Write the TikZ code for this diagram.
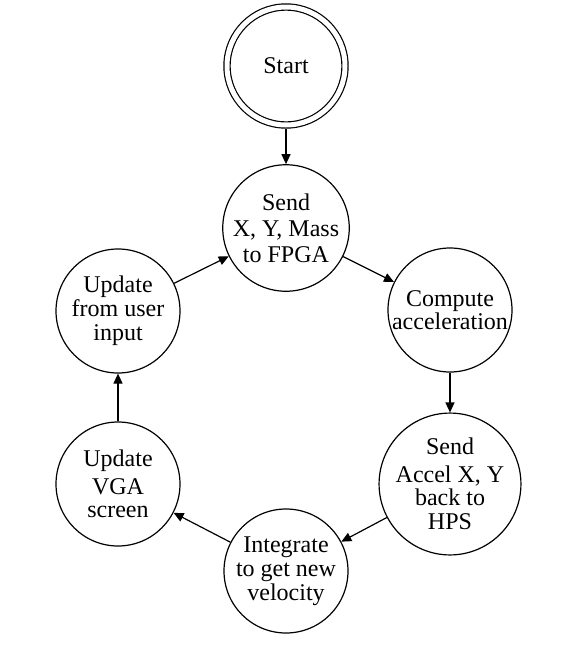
\documentclass[tikz,border=0pt]{standalone}
\usepackage{fontspec}
\setmainfont{Liberation Serif}
\usetikzlibrary{arrows.meta}
\tikzset{
  state/.style      = {draw, circle, line width=1.2pt, minimum size=124pt, inner sep=0pt,
                       align=center, font=\fontsize{24}{24}\selectfont},
  startstate/.style = {state, double, double distance=5pt, minimum size=118pt, outer sep=3.7pt},
  arrow/.style      = {-{Triangle[length=10pt,width=9pt]}, line width=1.2pt},
}
\begin{document}
\begin{tikzpicture}[x=1pt,y=-1pt]
  \useasboundingbox (0,0) rectangle (565,651);
  \node[startstate] (start) at (286,66)  {Start};
  \node[state]      (send)  at (286,228) {Send\\[2pt] X, Y, Mass\\[2pt] to FPGA};
  \node[state]      (comp)  at (450,310) {Compute\\[-1pt] acceleration};
  \node[state]      (back)  at (450,484) {Send\\[4pt] Accel X, Y\\[-1pt] back to\\ HPS};
  \node[state]      (integ) at (286,571) {Integrate\\ to get new\\ velocity};
  \node[state]      (vga)   at (118,484) {Update\\[4pt] VGA\\[-1pt] screen};
  \node[state]      (user)  at (118,311) {Update\\ from user\\ input};
  \draw[arrow] (start) -- (send); \draw[arrow] (send) -- (comp); \draw[arrow] (comp) -- (back);
  \draw[arrow] (back) -- (integ); \draw[arrow] (integ) -- (vga); \draw[arrow] (vga) -- (user);
  \draw[arrow] (user) -- (send);
\end{tikzpicture}
\end{document}
